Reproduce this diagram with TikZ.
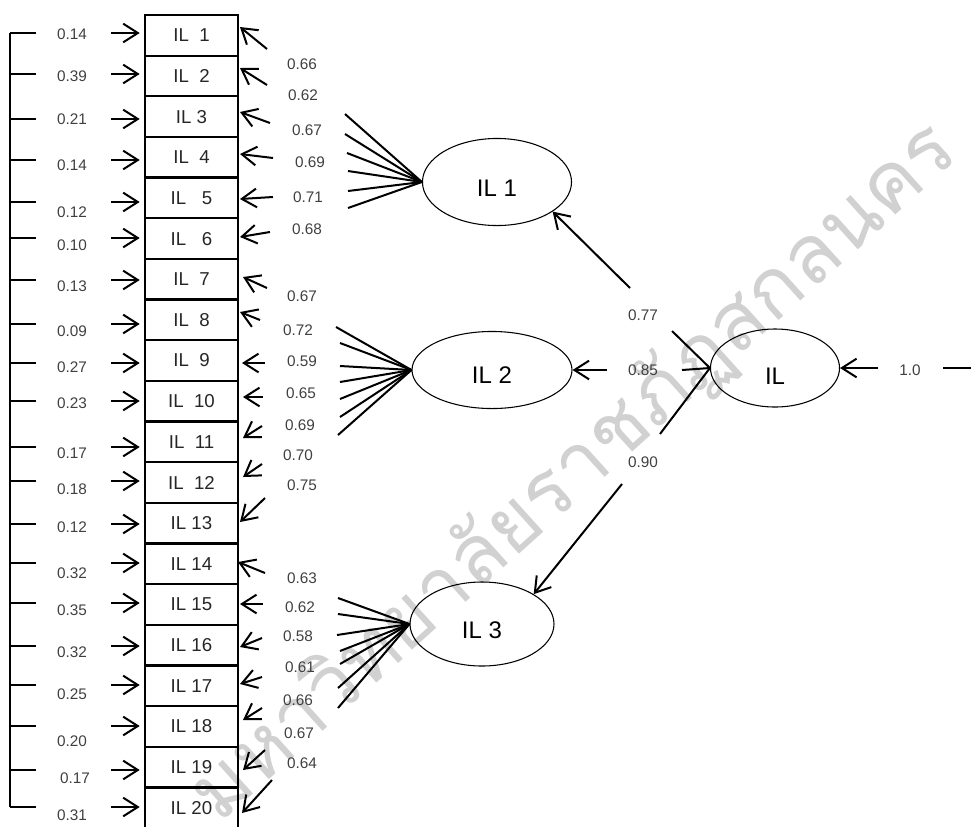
\documentclass[tikz,border=0pt]{standalone}
\usepackage{fontspec}
\setmainfont{Liberation Sans}
\newfontfamily\thaifont[Script=Thai]{Loma}
\usetikzlibrary{arrows.meta,shapes.geometric}
\begin{document}
\begin{tikzpicture}[x=0.75pt,y=-0.75pt,
  ln/.style={line width=1.5pt},
  arr/.style={line width=1.5pt,-{Straight Barb[length=11pt,width=14pt]}},
  lab/.style={inner sep=0pt,text=black!75,font=\fontsize{11.5}{13}\selectfont},
  boxst/.style={draw,line width=1.7pt,minimum width=70pt,minimum height=30.5pt,inner sep=0pt,text=black!85,font=\fontsize{14}{16}\selectfont},
  ell/.style={draw,ellipse,line width=0.8pt,inner sep=0pt,font=\fontsize{18}{20}\selectfont},
  wm/.style={text=black!18,font=\thaifont\fontsize{61}{68}\selectfont}]
\useasboundingbox (0,0) rectangle (971,826);
% watermark
\node[wm,rotate=42] (wmark) at (574,472) {มหาวิทยาลัยราชภัฏสกลนคร};
% boxes
\foreach \i/\t in {1/{IL\ \ 1},2/{IL\ \ 2},3/{IL 3},4/{IL\ \ 4},5/{IL\ \ \ 5},6/{IL\ \ \ 6},7/{IL\ \ 7},8/{IL\ \ 8},9/{IL\ \ 9},10/{IL\ \ 10},11/{IL\ \ 11},12/{IL\ \ 12},13/{IL 13},14/{IL 14},15/{IL 15},16/{IL 16},17/{IL 17},18/{IL 18},19/{IL 19},20/{IL 20}}
  \node[boxst] (b\i) at (191.5,{15+(\i-0.5)*40.65}) {\t};
% left side: bracket, errors, arrows
\foreach \i/\y/\lx/\ly/\lv in {1/33/72/34/0.14,2/74/72/76/0.39,3/119/72/119/0.21,4/160/72/165/0.14,5/202/72/212/0.12,6/238/72/245/0.10,7/280/72/286/0.13,8/324/72/331/0.09,9/363/72/367/0.27,10/401/72/403/0.23,11/447/72/453/0.17,12/481/72/489/0.18,13/524/72/527/0.12,14/563/72/573/0.32,15/603/72/610/0.35,16/646/72/652/0.32,17/685/72/694/0.25,18/726/72/741/0.20,19/770/75/778/0.17,20/807/72/815/0.31}{
  \coordinate (lt\i) at (10,\y);
  \coordinate (le\i) at (36,\y);
  \draw[ln] (lt\i) -- (le\i);
  \node[lab] (el\i) at (\lx,\ly) {\lv};
  \coordinate (as\i) at (111,\y);
  \draw[arr,shorten >=3pt] (as\i) -- (b\i.west |- as\i);
}
\draw[ln] (lt1) -- (lt20);
% ellipses
\node[ell,minimum width=111.8pt,minimum height=65.3pt] (e1) at (497,182) {};
\node[font=\fontsize{18}{20}\selectfont] (t1) at (497,188) {IL 1};
\node[ell,minimum width=120pt,minimum height=57.8pt] (e2) at (492,370) {};
\node[font=\fontsize{18}{20}\selectfont] (t2) at (492,375) {IL 2};
\node[ell,minimum width=108pt,minimum height=63pt] (e3) at (482,624) {};
\node[font=\fontsize{18}{20}\selectfont] (t3) at (482,630) {IL 3};
\node[ell,minimum width=96.8pt,minimum height=58.5pt] (e0) at (775,368) {};
\node[font=\fontsize{18}{20}\selectfont] (t0) at (775,376) {IL};
% loadings to indicators: short arrows at box right edges
\foreach \i/\tx/\ty/\px/\py/\lx/\ly/\lv in {1/267/49/240/27/302/64/0.66,2/267/85/240/68/303/95/0.62,3/270/123/240/112/307/130/0.67,4/273/158/240/154/310/162/0.69,5/273/197/240/199/308/197/0.71,6/270/232/240/237/307/229/0.68,7/267/288/243/277/302/296/0.67,8/260/320/240/312/298/330/0.72,9/265/363/242/363/302/361/0.59,10/263/397/243/397/301/393/0.65,11/262/426/243/438/300/425/0.69,12/262/464/243/477/298/455/0.70,13/265/498/240/522/302/485/0.75,14/265/573/238/562/302/578/0.63,15/263/604/240/604/300/607/0.62,16/262/638/240/647/298/636/0.58,17/262/677/240/684/300/667/0.61,18/262/708/243/720/298/700/0.66,19/265/750/243/770/299/733/0.67,20/272/780/242/813/302/763/0.64}{
  \coordinate (rt\i) at (\tx,\ty);
  \coordinate (rp\i) at (\px,\py);
  \draw[arr] (rt\i) -- (rp\i);
  \node[lab] (rl\i) at (\lx,\ly) {\lv};
}
% fans
\foreach \k/\x/\y in {1/345/114,2/345/134,3/347/153,4/348/171,5/348/191,6/348/208}{
  \coordinate (fa\k) at (\x,\y);
  \draw[ln] (e1.west) -- (fa\k);
}
\foreach \k/\x/\y in {1/336/327,2/340/343,3/340/366,4/340/382,5/340/399,6/340/417,7/338/435}{
  \coordinate (fb\k) at (\x,\y);
  \draw[ln] (e2.west) -- (fb\k);
}
\foreach \k/\x/\y in {1/338/598,2/338/614,3/337/635,4/340/651,5/340/664,6/338/688,7/338/708}{
  \coordinate (fc\k) at (\x,\y);
  \draw[ln] (e3.west) -- (fc\k);
}
% second order
\coordinate (g1a) at (672,331);
\coordinate (g1b) at (630,288);
\draw[ln] (e0.west) -- (g1a);
\draw[arr] (g1b) -- (e1.-28);
\node[lab] (l77) at (643,315) {0.77};
\coordinate (g2a) at (682,370);
\coordinate (g2b) at (607,370);
\draw[ln] (e0.west) -- (g2a);
\draw[arr] (g2b) -- (e2.east);
\node[lab] (l85) at (643,370) {0.85};
\coordinate (g3a) at (660,434);
\coordinate (g3b) at (622,484);
\draw[ln] (e0.west) -- (g3a);
\draw[arr] (g3b) -- (e3.30);
\node[lab] (l90) at (643,462) {0.90};
% disturbance
\coordinate (d1) at (878,368);
\draw[arr] (d1) -- (e0.east);
\node[lab] (l10) at (910,370) {1.0};
\coordinate (d2) at (943,368);
\coordinate (d3) at (971,368);
\draw[ln] (d2) -- (d3);
\end{tikzpicture}
\end{document}
